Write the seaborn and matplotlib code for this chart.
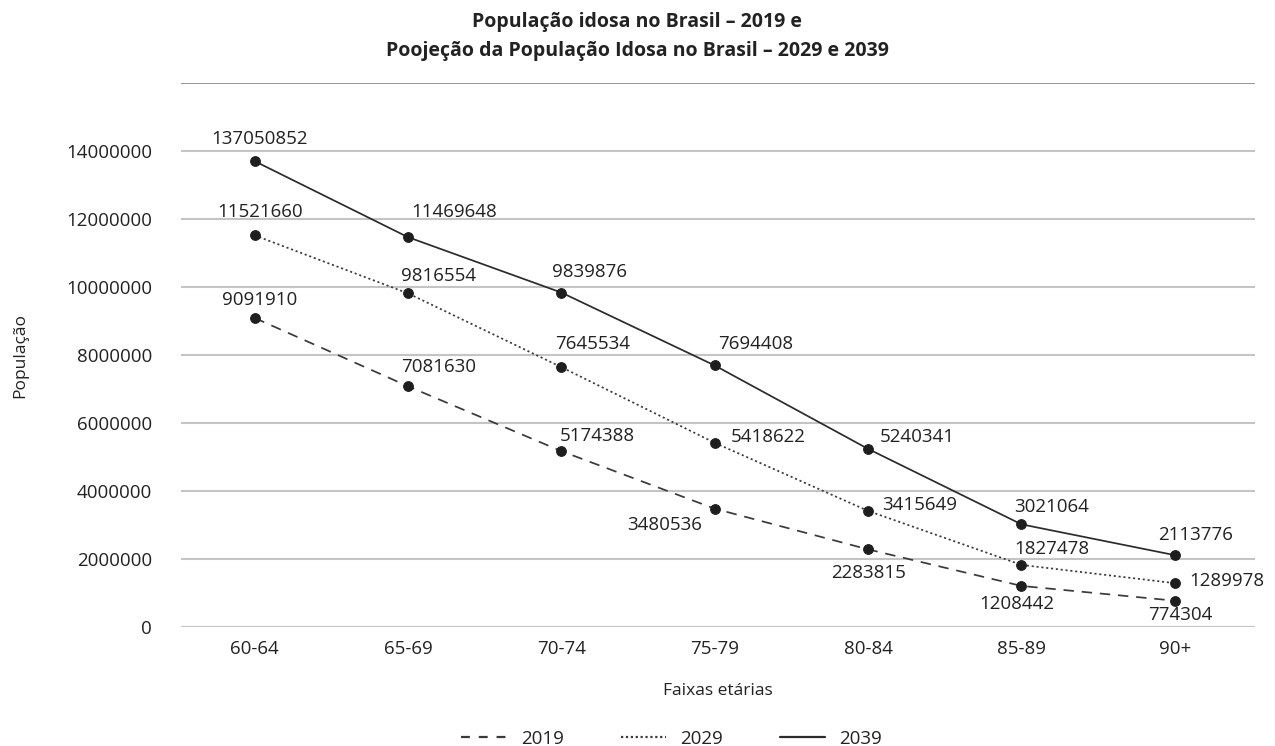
import matplotlib
matplotlib.use("Agg")
import matplotlib.pyplot as plt
import seaborn as sns
import pandas as pd
from matplotlib.lines import Line2D

categories = ["60-64", "65-69", "70-74", "75-79", "80-84", "85-89", "90+"]
pop_2019 = [9091910, 7081630, 5174388, 3480536, 2283815, 1208442, 774304]
pop_2029 = [11521660, 9816554, 7645534, 5418622, 3415649, 1827478, 1289978]
pop_2039 = [13705085, 11469648, 9839876, 7694408, 5240341, 3021064, 2113776]
labels_2019 = ["9091910", "7081630", "5174388", "3480536", "2283815", "1208442", "774304"]
labels_2029 = ["11521660", "9816554", "7645534", "5418622", "3415649", "1827478", "1289978"]
labels_2039 = ["137050852", "11469648", "9839876", "7694408", "5240341", "3021064", "2113776"]
years = ["2019", "2029", "2039"]
yticks = [0, 2000000, 4000000, 6000000, 8000000, 10000000, 12000000, 14000000]

sns.set_theme(style="white")
plt.rcParams['font.family'] = ['Open Sans', 'DejaVu Sans']

rows = []
for yr, vals in zip(years, [pop_2019, pop_2029, pop_2039]):
    for i, (c, v) in enumerate(zip(categories, vals)):
        rows.append({"Faixa": i, "cat": c, "Ano": yr, "Pop": v})
df = pd.DataFrame(rows)

fig = plt.figure(figsize=(12.75, 7.46), dpi=100)
ax = fig.add_axes([0.142, 0.1595, 0.842, 0.729])

for y in yticks:
    ax.axhline(y, color="#c4c4c4", lw=1.5, zorder=0)
ax.axhline(16000000, color="#8f8f8f", lw=1.3, zorder=0)

dark = "#2b2b2b"
sns.lineplot(data=df, x="Faixa", y="Pop", hue="Ano", style="Ano",
             palette={"2019": "#3a3a3a", "2029": "#3a3a3a", "2039": dark},
             dashes={"2019": (6, 4.5), "2029": (1.2, 1.6), "2039": ""},
             markers={"2019": "o", "2029": "o", "2039": "o"},
             markersize=7, linewidth=1.25, ax=ax, legend=False, zorder=3)
for ln in ax.lines:
    if ln.get_marker() == "o":
        ln.set_markerfacecolor("#1e1e1e")
        ln.set_markeredgecolor("#1e1e1e")

# label offsets in pixels (x right, y up)
off_2019 = [(5, 18), (31, 19), (36, 15), (-50, -16), (0, -24), (-5, -18), (5, -14)]
off_2029 = [(5, 23), (31, 17), (31, 23), (53, 6), (52, 6), (30, 16), (52, 2)]
off_2039 = [(5, 22), (46, 25), (28, 21), (41, 21), (49, 12), (30, 17), (21, 20)]
for vals, labs, offs in [(pop_2019, labels_2019, off_2019),
                         (pop_2029, labels_2029, off_2029),
                         (pop_2039, labels_2039, off_2039)]:
    for i, (v, l, o) in enumerate(zip(vals, labs, offs)):
        ax.annotate(l, (i, v), xytext=o, textcoords="offset pixels",
                    ha="center", va="center", fontsize=13.5, color="#222222",
                    zorder=5)

ax.set_xlim(-0.48, 6.52)
ax.set_ylim(0, 16000000)
ax.set_yticks(yticks)
ax.set_yticklabels([str(t) for t in yticks], fontsize=13.5, color="#222222")
ax.set_xticks(range(len(categories)))
ax.set_xticklabels(categories, fontsize=13.5, color="#222222")
ax.tick_params(axis="x", length=0, pad=9)
ax.tick_params(axis="y", length=0, pad=21)
for s in ax.spines.values():
    s.set_visible(False)
ax.set_xlabel("Faixas etárias", fontsize=12.5, color="#222222", labelpad=18)
ax.set_ylabel("População", fontsize=12.5, color="#222222", labelpad=27)

fig.text(0.5, 0.951, "População idosa no Brasil – 2019 e\nPoojeção da População Idosa no Brasil – 2029 e 2039",
         ha="center", va="center", fontsize=14, fontweight="bold", color="#222222",
         linespacing=1.55)

handles = [Line2D([], [], color="#3a3a3a", lw=1.6, ls=(0, (4, 4))),
           Line2D([], [], color="#3a3a3a", lw=1.6, ls=(0, (1, 1.2))),
           Line2D([], [], color=dark, lw=1.6, ls="-")]
fig.legend(handles, years, loc="center", bbox_to_anchor=(0.527, 0.01), ncol=3,
           frameon=False, fontsize=13.5, columnspacing=3.0, handlelength=2.4,
           handletextpad=0.8, labelcolor="#222222", borderaxespad=0, borderpad=0)

fig.savefig("out.png", dpi=100)
